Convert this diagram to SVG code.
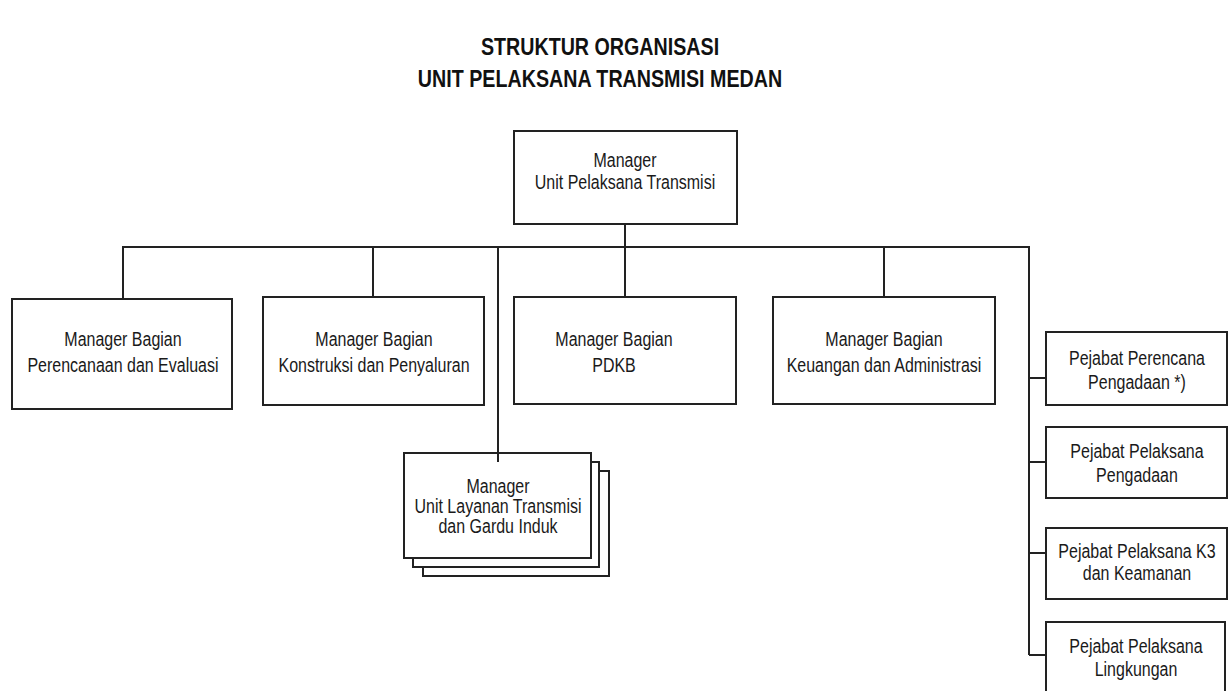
<svg xmlns="http://www.w3.org/2000/svg" width="1230" height="691" viewBox="0 0 1230 691">
<style>
.box{fill:#fff;stroke:#222;stroke-width:2}
.ln{fill:none;stroke:#222;stroke-width:2}
.t{font-family:"Liberation Sans",Arial,sans-serif;font-size:19.5px;fill:#1a1a1a;text-anchor:middle}
.h{font-family:"Liberation Sans",Arial,sans-serif;font-size:24px;font-weight:bold;fill:#111;text-anchor:middle}
</style>
<rect width="1230" height="691" fill="#fff"/>
<g id="title">
<text class="h" transform="translate(600 55) scale(0.82 1)">STRUKTUR ORGANISASI</text>
<text class="h" transform="translate(600 87) scale(0.82 1)">UNIT PELAKSANA TRANSMISI MEDAN</text>
</g>
<g id="connectors">
<path class="ln" d="M625 224V297M123 300V247H1029V655M373 297V247M884 297V247M498 247V462M1029 378H1046M1029 462H1046M1029 553H1046M1029 655H1046"/>
</g>
<g id="n-top">
<rect class="box" x="514" y="131" width="223" height="93"/>
<text class="t" transform="translate(625 167) scale(0.82 1)">Manager</text>
<text class="t" transform="translate(625 189) scale(0.82 1)">Unit Pelaksana Transmisi</text>
</g>
<g id="n-perencanaan">
<rect class="box" x="12" y="299" width="220" height="110"/>
<text class="t" transform="translate(123 346) scale(0.82 1)">Manager Bagian</text>
<text class="t" transform="translate(123 372) scale(0.82 1)">Perencanaan dan Evaluasi</text>
</g>
<g id="n-konstruksi">
<rect class="box" x="263" y="297" width="221" height="108"/>
<text class="t" transform="translate(374 346) scale(0.82 1)">Manager Bagian</text>
<text class="t" transform="translate(374 372) scale(0.82 1)">Konstruksi dan Penyaluran</text>
</g>
<g id="n-pdkb">
<rect class="box" x="514" y="297" width="222" height="107"/>
<text class="t" transform="translate(614 346) scale(0.82 1)">Manager Bagian</text>
<text class="t" transform="translate(614 372) scale(0.82 1)">PDKB</text>
</g>
<g id="n-keuangan">
<rect class="box" x="773" y="297" width="222" height="107"/>
<text class="t" transform="translate(884 346) scale(0.82 1)">Manager Bagian</text>
<text class="t" transform="translate(884 372) scale(0.82 1)">Keuangan dan Administrasi</text>
</g>
<g id="n-ultg">
<rect class="box" x="423" y="471" width="186" height="105"/>
<rect class="box" x="413" y="462" width="186" height="105"/>
<rect class="box" x="404" y="453" width="187" height="105"/>
<line class="ln" x1="498" y1="453" x2="498" y2="462"/>
<text class="t" transform="translate(498 493) scale(0.82 1)">Manager</text>
<text class="t" transform="translate(498 513) scale(0.82 1)">Unit Layanan Transmisi</text>
<text class="t" transform="translate(498 533) scale(0.82 1)">dan Gardu Induk</text>
</g>
<g id="n-pp1">
<rect class="box" x="1046" y="332" width="181" height="73"/>
<text class="t" transform="translate(1137 365) scale(0.82 1)">Pejabat Perencana</text>
<text class="t" transform="translate(1137 389) scale(0.82 1)">Pengadaan *)</text>
</g>
<g id="n-pp2">
<rect class="box" x="1046" y="427" width="181" height="71"/>
<text class="t" transform="translate(1137 458) scale(0.82 1)">Pejabat Pelaksana</text>
<text class="t" transform="translate(1137 482) scale(0.82 1)">Pengadaan</text>
</g>
<g id="n-pp3">
<rect class="box" x="1046" y="528" width="181" height="71"/>
<text class="t" transform="translate(1137 558) scale(0.82 1)">Pejabat Pelaksana K3</text>
<text class="t" transform="translate(1137 580) scale(0.82 1)">dan Keamanan</text>
</g>
<g id="n-pp4">
<rect class="box" x="1046" y="622" width="179" height="80"/>
<text class="t" transform="translate(1136 653) scale(0.82 1)">Pejabat Pelaksana</text>
<text class="t" transform="translate(1136 676) scale(0.82 1)">Lingkungan</text>
</g>
</svg>
